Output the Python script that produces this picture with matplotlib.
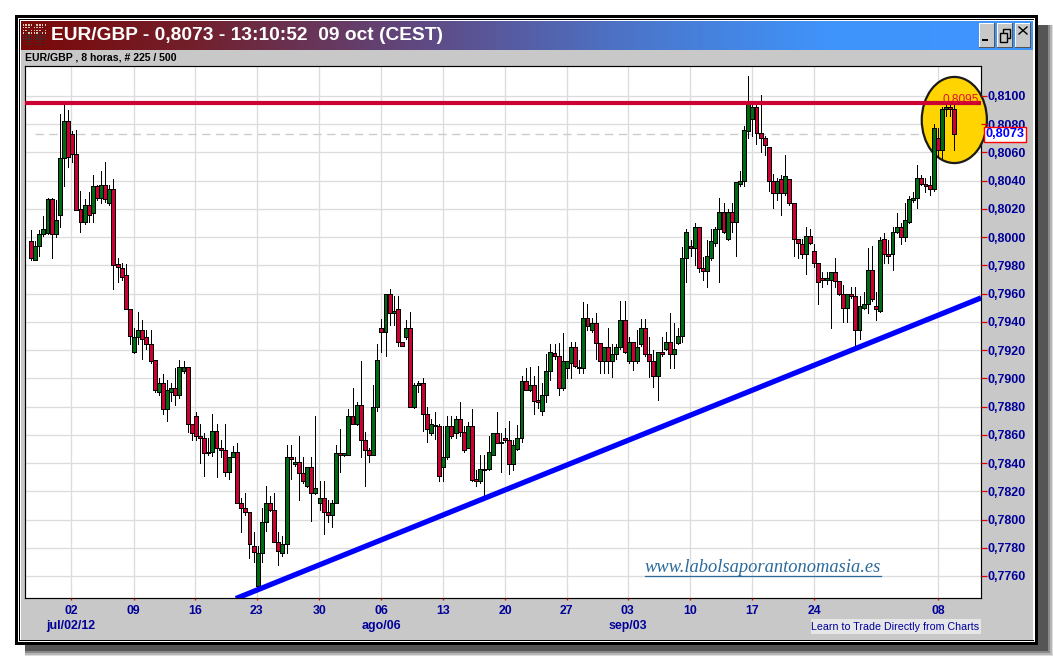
#!/usr/bin/env python3
# -*- coding: utf-8 -*-
import numpy as np
import matplotlib
matplotlib.use('Agg')
import matplotlib.pyplot as plt
from matplotlib.patches import Rectangle, Ellipse
from matplotlib.colors import LinearSegmentedColormap

# EUR/GBP 8h candles, prices in pips (value / 10000)
opens = [7997,7984,7994,8002,8003,8027,8002,8016,8056,8082,8073,8059,8020,8011,8023,8017,8036,8028,8037,8024,
         8034,7981,7978,7973,7949,7919,7929,7934,7929,7924,7913,7890,7897,7878,7890,7893,7888,7905,7908,7868,
         7873,7859,7858,7847,7848,7863,7851,7849,7834,7844,7848,7812,7808,7805,7781,7753,7776,7798,7812,7807,
         7784,7776,7783,7844,7839,7841,7833,7824,7837,7819,7812,7815,7805,7803,7812,7847,7846,7846,7873,7868,
         7881,7856,7849,7846,7880,7936,7933,7960,7946,7949,7926,7929,7936,7880,7895,7897,7875,7861,7866,7866,
         7837,7844,7866,7861,7871,7862,7851,7866,7829,7827,7835,7836,7846,7861,7854,7858,7856,7839,7850,7858,
         7898,7892,7895,7885,7877,7888,7905,7918,7916,7893,7907,7911,7922,7908,7907,7943,7934,7939,7925,7912,
         7922,7912,7917,7922,7941,7912,7926,7912,7924,7936,7917,7912,7902,7919,7921,7926,7917,7925,7930,7985,
         7994,7992,8007,7978,7976,7985,7996,8006,8018,7999,8018,8011,8038,8040,8075,8084,8092,8074,8070,8064,
         8040,8031,8041,8031,8041,8024,7999,7995,7988,8001,7990,7982,7971,7970,7970,7975,7969,7960,7950,7960,
         7958,7934,7950,7953,7977,7951,7948,7999,7988,7988,8004,8007,8000,8011,8026,8028,8042,8038,8037,8034,
         8070,8062,8091,8092,8091]
highs = [8005,7997,8005,8015,8028,8028,8026,8087,8094,8090,8075,8076,8033,8027,8032,8044,8037,8047,8053,8037,
         8041,7985,7982,7981,7949,7936,7947,7941,7934,7934,7913,7900,7903,7899,7897,7907,7913,7912,7908,7868,
         7876,7868,7861,7858,7875,7868,7856,7868,7844,7852,7854,7815,7819,7805,7791,7781,7808,7824,7817,7819,
         7791,7788,7853,7853,7844,7859,7844,7837,7844,7873,7827,7827,7814,7814,7853,7864,7847,7878,7893,7883,
         7912,7862,7851,7895,7924,7942,7960,7963,7958,7958,7926,7941,7947,7897,7898,7900,7880,7871,7876,7868,
         7866,7873,7873,7873,7883,7866,7869,7878,7835,7846,7846,7859,7861,7876,7861,7865,7870,7856,7867,7902,
         7907,7908,7902,7909,7897,7917,7924,7924,7925,7932,7912,7926,7926,7913,7954,7953,7943,7946,7925,7922,
         7936,7924,7924,7955,7955,7929,7926,7934,7942,7942,7929,7920,7919,7929,7933,7946,7939,7936,7993,8006,
         7998,8010,8007,7986,7998,8006,8007,8028,8024,8020,8024,8039,8047,8079,8114,8094,8094,8101,8072,8064,
         8045,8042,8044,8058,8041,8024,7999,7999,8007,8006,7995,7982,7975,7975,7975,7985,7969,7966,7960,7965,
         7965,7958,7961,7992,7994,7961,8000,8003,7998,8007,8017,8010,8024,8029,8032,8051,8044,8042,8043,8080,
         8077,8092,8094,8094,8094]
lows = [7984,7984,7987,8001,8002,7985,8000,8007,8036,8050,8053,8019,8004,8009,8011,8011,8026,8024,8025,8023,
        7963,7968,7970,7949,7924,7918,7924,7914,7921,7911,7890,7888,7875,7870,7884,7881,7886,7904,7862,7856,
        7856,7840,7831,7846,7845,7830,7844,7831,7829,7844,7812,7791,7803,7773,7770,7752,7770,7792,7806,7784,
        7768,7774,7776,7829,7838,7814,7826,7823,7799,7818,7807,7790,7798,7795,7812,7834,7845,7846,7868,7867,
        7844,7824,7841,7846,7877,7919,7916,7938,7938,7923,7923,7928,7880,7879,7890,7863,7855,7860,7857,7827,
        7827,7843,7858,7858,7859,7848,7851,7827,7824,7826,7814,7835,7846,7854,7834,7855,7832,7835,7849,7855,
        7892,7891,7875,7879,7874,7883,7899,7914,7888,7892,7900,7900,7908,7904,7904,7934,7933,7914,7904,7904,
        7904,7901,7914,7921,7918,7911,7906,7911,7923,7916,7901,7894,7885,7916,7920,7907,7907,7924,7926,7968,
        7987,7980,7975,7970,7965,7984,7994,7968,8003,7998,8004,7987,8036,8036,8070,8072,8066,8060,8058,8033,
        8021,8026,8016,8030,8023,7987,7985,7985,7974,7995,7979,7953,7965,7967,7936,7965,7959,7940,7940,7957,
        7921,7928,7949,7946,7955,7941,7947,7982,7982,7977,8003,7995,7997,8010,8025,8021,8037,8032,8030,8033,
        8057,8056,8086,8086,8062]
closes = [7985,7994,8002,8006,8027,8002,8012,8056,8082,8057,8059,8019,8011,8023,8016,8036,8028,8037,8027,8034,
          7980,7979,7972,7949,7930,7929,7934,7928,7924,7912,7892,7897,7878,7892,7893,7888,7908,7908,7868,7861,
          7859,7858,7847,7848,7863,7851,7849,7834,7844,7848,7812,7808,7805,7783,7777,7776,7798,7812,7807,7784,
          7778,7783,7844,7843,7841,7833,7827,7837,7819,7822,7815,7805,7803,7812,7847,7846,7847,7873,7868,7881,
          7856,7849,7846,7880,7913,7933,7960,7946,7948,7926,7923,7936,7880,7895,7897,7875,7864,7868,7867,7831,
          7844,7866,7859,7871,7862,7849,7866,7828,7827,7836,7836,7848,7861,7854,7855,7856,7839,7853,7858,7898,
          7892,7895,7884,7883,7888,7905,7919,7916,7893,7912,7912,7922,7909,7907,7943,7937,7939,7925,7912,7922,
          7912,7917,7922,7941,7919,7926,7912,7922,7936,7917,7912,7902,7919,7917,7926,7917,7921,7930,7985,8004,
          7992,8007,7978,7976,7987,7997,8006,8018,8004,8018,8011,8039,8040,8076,8094,8092,8074,8070,8065,8040,
          8031,8040,8031,8043,8024,7999,7996,7988,8001,7996,7982,7968,7970,7971,7975,7969,7960,7950,7960,7958,
          7934,7951,7953,7977,7956,7949,7998,7988,7987,8004,8007,8000,8012,8027,8028,8042,8038,8036,8034,8077,
          8062,8091,8092,8091,8073]

# horizontal resistance and rising support line
resistance = 0.8095
last_price = 0.8073
trend_bars = [49.7, 230.5]
trend_prices = [0.7744, 0.7957]
circle_bar = 224.0
circle_price = 0.8083
circle_w = 15.8
circle_h = 0.0061

y_ticks = [0.7760,0.7780,0.7800,0.7820,0.7840,0.7860,0.7880,0.7900,0.7920,0.7940,
           0.7960,0.7980,0.8000,0.8020,0.8040,0.8060,0.8080,0.8100]
week_bars = [9.7,24.9,39.9,54.8,69.9,84.9,100.0,115.0,130.0,144.8,159.9,174.9,190.0,220.0]
week_labels = ['02','09','16','23','30','06','13','20','27','03','10','17','24','08']
month_bars = [9.7,84.9,144.8]
month_labels = ['jul/02/12','ago/06','sep/03']

NAVY = '#000099'
RED = '#cc0033'
GREEN = '#006a12'


def rect(ax, x0, y0, x1, y1, color, **kw):
	ax.add_patch(Rectangle((x0, y0), x1 - x0, y1 - y0, facecolor=color, edgecolor='none', **kw))


def draw_window(bg):
	# shadow, fading out at the edge
	for off, col in [(15, '#dddddd'), (14, '#b5b5b5'), (12, '#8a8a8a'), (10, '#555555')]:
		rect(bg, 25, 25, 1038 + off, 645 + off - 4, col)
	rect(bg, 15, 15, 1038, 645, 'black')
	rect(bg, 18, 18, 1035, 642, 'white')
	rect(bg, 19, 19, 1034, 641, 'black')
	rect(bg, 20, 20, 1033.5, 640, 'white')
	rect(bg, 21, 21, 1033, 639.5, '#c8c8c8')

	# title bar gradient
	cmap = LinearSegmentedColormap.from_list('title', [(0, '#7b0808'), (0.17, '#72202c'), (0.4, '#5f4a84'),
		(0.62, '#4a78cf'), (0.8, '#3f94fb'), (1, '#3f96ff')])
	grad = np.linspace(0, 1, 512).reshape(1, -1)
	bg.imshow(grad, cmap=cmap, extent=[21, 1033, 50, 21], aspect='auto', zorder=1)
	bg.set_xlim(0, 1053)
	bg.set_ylim(660, 0)

	# small dotted logo
	for row in range(8):
		for col in range(9):
			c = '#d8c8b8' if row < 4 and (col + row) % 5 != 4 else '#3a3030'
			rect(bg, 22.5 + col * 2.75, 24 + row * 2.8, 24 + col * 2.75, 25.5 + row * 2.8, c, zorder=2)

	bg.text(51, 35.5, 'EUR/GBP - 0,8073 - 13:10:52  09 oct (CEST)', color='white', fontsize=13.8,
		fontweight='bold', family='Liberation Sans', va='center', ha='left', zorder=3)
	bg.text(25, 58, 'EUR/GBP , 8 horas, # 225 / 500', color='black', fontsize=7.6, fontweight='bold',
		family='Liberation Sans', va='center', ha='left', zorder=3)

	# minimize / restore / close buttons
	for x0 in (979, 997, 1015):
		rect(bg, x0, 23, x0 + 16, 47.5, '#555555', zorder=2)
		rect(bg, x0, 23, x0 + 15, 46.5, 'white', zorder=2)
		rect(bg, x0 + 1, 24, x0 + 15, 46.5, '#c8c8c8', zorder=2)
	rect(bg, 982, 39, 988, 41, 'black', zorder=3)
	bg.add_patch(Rectangle((1003, 29), 7, 9, facecolor='#c8c8c8', edgecolor='black', lw=1, zorder=3))
	bg.add_patch(Rectangle((1000, 33), 7, 9, facecolor='#c8c8c8', edgecolor='black', lw=1, zorder=3))
	bg.plot([1019, 1027], [27, 34], color='black', lw=1, zorder=3)
	bg.plot([1019, 1027], [34, 27], color='black', lw=1, zorder=3)


def draw_candles(ax):
	x = np.arange(len(opens))
	o, h, l, c = [np.array(v) / 10000 for v in (opens, highs, lows, closes)]
	ax.vlines(x, l, h, color='black', lw=0.72, zorder=3, antialiased=False)
	up = c >= o
	body = np.maximum(np.abs(c - o), 0.00005)
	colors = [GREEN if u else RED for u in up]
	ax.bar(x, body, bottom=np.minimum(o, c), width=0.95, color=colors, edgecolor='black', linewidth=0.72,
		zorder=3.2, antialiased=False)


def main() -> None:
	fig = plt.figure(figsize=(10.53, 6.6), dpi=100, facecolor='white')
	bg = fig.add_axes([0, 0, 1, 1], zorder=0)
	bg.axis('off')
	draw_window(bg)

	ax = fig.add_axes([25 / 1053, 1 - 598 / 660, 956 / 1053, 532 / 660], zorder=1)
	ax.set_xlim(-1.46, 230.47)
	ax.set_ylim(0.77444, 0.812125)
	ax.set_facecolor('white')
	for s in ax.spines.values():
		s.set_color('black')
		s.set_linewidth(0.85)
		s.set_zorder(0.9)

	ax.hlines(y_ticks, -1.46, 230.47, color='#dcdcdc', lw=0.95, zorder=0.5)
	ax.vlines(week_bars, 0.77444, 0.812125, color='#dcdcdc', lw=0.95, zorder=0.5)
	ax.plot([1, 230], [last_price, last_price], color='#cccccc', lw=1, dashes=(6, 4), zorder=0.7)

	ax.add_patch(Ellipse((circle_bar, circle_price), circle_w, circle_h, facecolor='#ffd400',
		edgecolor='#1a1a1a', lw=1.6, clip_on=False, zorder=1))

	draw_candles(ax)
	ax.axhline(resistance, color=RED, lw=3, zorder=4)
	ax.plot(trend_bars, trend_prices, color='#0000ff', lw=3.8, solid_capstyle='butt', zorder=5)

	ax.yaxis.tick_right()
	ax.set_yticks(y_ticks)
	ax.set_yticklabels(['{:.4f}'.format(v).replace('.', ',') for v in y_ticks], color=NAVY, fontsize=9,
		fontweight='bold', family='Liberation Sans')
	ax.tick_params(axis='y', color='#e00000', length=4, width=0.9, pad=0.6)
	ax.set_xticks(week_bars)
	ax.set_xticklabels(week_labels, color=NAVY, fontsize=8.8, fontweight='bold', family='Liberation Sans')
	ax.tick_params(axis='x', color='#e00000', length=1.6, width=0.9, pad=3.5)

	for b, lab in zip(month_bars, month_labels):
		ax.text(b, -0.0535, lab, transform=ax.get_xaxis_transform(), color=NAVY, fontsize=8.9, fontweight='bold',
			family='Liberation Sans', ha='center', va='center', clip_on=False)

	ax.text(230.0, 0.80935, '0,8095', color='#e0103c', fontsize=8.6, family='Liberation Sans', ha='right', va='bottom', zorder=6)
	ax.text(231.6, last_price, '0,8073', color='#0000ff', fontsize=9.2, fontweight='bold', family='Liberation Sans',
		ha='left', va='center', clip_on=False, zorder=10,
		bbox=dict(boxstyle='square,pad=0.12', facecolor='white', edgecolor='#ff0000', lw=1))

	top = fig.add_axes([0, 0, 1, 1], zorder=2)
	top.axis('off')
	top.set_xlim(0, 1053)
	top.set_ylim(660, 0)
	top.text(645, 567.5, 'www.labolsaporantonomasia.es', color='#2b6a9b', fontsize=13.3, style='italic',
		family='Liberation Serif', va='center', ha='left')
	top.plot([645, 881], [576, 576], color='#2b6a9b', lw=0.9)
	rect(top, 811, 619, 981, 634, '#e6e6e6')
	top.text(811, 627, 'Learn to Trade Directly from Charts', color=NAVY, fontsize=7.7, family='Liberation Sans',
		va='center', ha='left')

	fig.savefig('out.png', dpi=100)
	plt.close(fig)


if __name__ == '__main__':
	main()
